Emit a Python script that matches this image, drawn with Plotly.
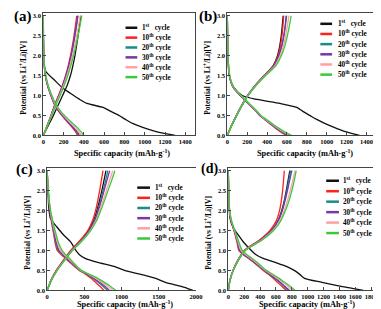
import plotly.graph_objects as go

# ---------------- data ----------------
CYCLES = ["1<sup>st</sup>   cycle", "10<sup>th</sup> cycle", "20<sup>th</sup> cycle",
          "30<sup>th</sup> cycle", "40<sup>th</sup> cycle", "50<sup>th</sup> cycle"]
COLORS = ["#111111", "#ff2020", "#1a8c8c", "#7a35a8", "#ff9fa6", "#3cc83c"]

# voltage levels at which capacities were read
C_V = [0.0, 0.25, 0.5, 0.75, 1.0, 1.25, 1.5, 1.75, 2.0, 2.25, 2.5, 2.75, 3.0]
D_V = [3.0, 2.5, 2.0, 1.8, 1.6, 1.4, 1.2, 1.0, 0.9, 0.8, 0.7, 0.6, 0.5, 0.4, 0.3, 0.2, 0.1, 0.05, 0.0]

# panel (a)
A_D1 = [0, 2, 5, 8, 25, 105, 185, 300, 360, 430, 590, 665, 745, 810, 880, 980, 1105, 1190, 1300]
A_D10 = [0, 1, 4, 8, 15, 28, 48, 75, 90, 105, 125, 152, 182, 215, 250, 285, 315, 328, 335]
A_D20 = [0, 1, 4, 8, 16, 30, 50, 78, 93, 109, 130, 157, 188, 222, 258, 295, 325, 338, 345]
A_D30 = [0, 1, 4, 8, 15, 28, 48, 76, 91, 107, 128, 155, 186, 220, 255, 292, 330, 345, 355]
A_D40 = [0, 1, 5, 9, 17, 32, 53, 82, 97, 114, 137, 166, 198, 234, 273, 313, 348, 362, 372]
A_D50 = [0, 1, 5, 10, 18, 34, 55, 85, 101, 119, 143, 173, 208, 248, 290, 333, 368, 384, 395]
A_C1 = [0, 50, 100, 145, 190, 235, 268, 292, 312, 328, 343, 357, 370]
A_C10 = [0, 38, 75, 110, 150, 188, 220, 246, 268, 287, 303, 317, 330]
A_C20 = [0, 40, 78, 114, 155, 193, 226, 253, 276, 295, 312, 327, 340]
A_C30 = [0, 39, 77, 112, 153, 191, 224, 251, 274, 294, 311, 327, 342]
A_C40 = [0, 41, 80, 118, 160, 199, 234, 263, 288, 310, 330, 348, 365]
A_C50 = [0, 43, 84, 123, 166, 206, 242, 272, 299, 322, 343, 362, 380]

# panel (b)
B_D1 = [0, 2, 5, 8, 14, 30, 65, 150, 300, 530, 700, 760, 830, 900, 980, 1075, 1180, 1250, 1330]
B_D10 = [0, 2, 6, 10, 16, 28, 58, 128, 170, 208, 250, 290, 325, 375, 425, 475, 530, 560, 595]
B_D20 = [0, 2, 6, 10, 17, 30, 60, 132, 174, 212, 254, 294, 330, 380, 432, 484, 540, 572, 605]
B_D30 = [0, 2, 6, 10, 16, 29, 59, 130, 172, 210, 252, 292, 328, 378, 430, 482, 540, 575, 610]
B_D40 = [0, 2, 7, 11, 18, 32, 63, 136, 178, 216, 258, 298, 334, 386, 440, 495, 555, 590, 625]
B_D50 = [0, 2, 7, 11, 18, 33, 65, 140, 182, 220, 262, 302, 338, 392, 448, 505, 568, 605, 645]
B_C1 = [0, 45, 95, 148, 208, 282, 372, 462, 505, 528, 543, 553, 562]
B_C10 = [0, 42, 92, 145, 205, 280, 370, 465, 510, 535, 550, 560, 568]
B_C20 = [0, 42, 92, 145, 205, 282, 375, 472, 520, 550, 570, 585, 597]
B_C30 = [0, 42, 92, 145, 205, 281, 373, 470, 518, 548, 568, 582, 592]
B_C40 = [0, 43, 94, 148, 208, 286, 380, 480, 532, 565, 588, 605, 620]
B_C50 = [0, 44, 96, 150, 212, 290, 386, 490, 545, 580, 605, 625, 642]

# panel (c)
C_D1 = [0, 8, 25, 45, 125, 215, 320, 385, 430, 510, 680, 900, 1040, 1260, 1460, 1590, 1800, 1880, 1960]
C_D10 = [0, 12, 35, 50, 68, 88, 105, 135, 185, 245, 305, 365, 430, 520, 590, 650, 710, 735, 760]
C_D20 = [0, 13, 38, 55, 74, 95, 115, 150, 200, 260, 318, 377, 440, 535, 615, 685, 750, 780, 810]
C_D30 = [0, 13, 40, 58, 78, 100, 122, 160, 210, 268, 325, 383, 445, 545, 630, 705, 775, 805, 835]
C_D40 = [0, 14, 42, 62, 85, 110, 138, 180, 228, 285, 338, 393, 452, 558, 655, 740, 815, 850, 880]
C_D50 = [0, 15, 45, 68, 92, 120, 150, 200, 245, 300, 350, 400, 460, 570, 680, 770, 850, 885, 920]
C_C1 = [0, 55, 130, 225, 325, 450, 555, 625, 668, 703, 735, 763, 790]
C_C10 = [0, 50, 120, 215, 315, 440, 545, 610, 650, 680, 705, 728, 750]
C_C20 = [0, 52, 128, 225, 330, 460, 565, 635, 680, 718, 752, 785, 815]
C_C30 = [0, 52, 128, 225, 330, 462, 568, 640, 688, 728, 765, 802, 840]
C_C40 = [0, 54, 132, 230, 336, 470, 578, 655, 706, 752, 795, 838, 880]
C_C50 = [0, 55, 135, 235, 340, 475, 585, 665, 720, 770, 818, 865, 910]

# panel (d)
D_D1 = [0, 4, 12, 22, 55, 120, 195, 290, 345, 440, 590, 730, 830, 900, 960, 1180, 1420, 1560, 1700]
D_D10 = [0, 4, 14, 28, 55, 85, 110, 132, 185, 255, 320, 380, 440, 505, 565, 620, 675, 700, 730]
D_D20 = [0, 4, 15, 30, 58, 90, 116, 142, 195, 265, 330, 390, 450, 520, 585, 645, 700, 725, 755]
D_D30 = [0, 4, 15, 30, 58, 90, 117, 145, 198, 268, 333, 393, 453, 525, 592, 655, 712, 740, 770]
D_D40 = [0, 5, 16, 32, 62, 95, 125, 160, 215, 285, 350, 408, 468, 545, 620, 688, 750, 780, 810]
D_D50 = [0, 5, 18, 35, 65, 100, 135, 175, 230, 300, 365, 420, 480, 560, 640, 710, 780, 810, 840]
D_C1 = [0, 22, 62, 125, 210, 395, 540, 625, 672, 705, 730, 752, 775]
D_C10 = [0, 18, 58, 118, 200, 385, 525, 605, 645, 668, 684, 695, 705]
D_C20 = [0, 20, 60, 120, 205, 400, 545, 630, 678, 710, 737, 760, 785]
D_C30 = [0, 20, 60, 120, 205, 398, 543, 630, 680, 715, 745, 772, 800]
D_C40 = [0, 21, 62, 123, 210, 410, 560, 650, 705, 745, 780, 812, 840]
D_C50 = [0, 22, 64, 126, 214, 418, 570, 662, 720, 765, 800, 830, 855]

X_TICKS_A = [0, 200, 400, 600, 800, 1000, 1200, 1400]
X_TICKS_B = [0, 200, 400, 600, 800, 1000, 1200, 1400]
X_TICKS_C = [0, 500, 1000, 1500, 2000]
X_TICKS_D = [0, 200, 400, 600, 800, 1000, 1200, 1400, 1600, 1800]
Y_TICKS = [0.0, 0.5, 1.0, 1.5, 2.0, 2.5, 3.0]

PANELS = [
    ("(a)", [A_D1, A_D10, A_D20, A_D30, A_D40, A_D50], [A_C1, A_C10, A_C20, A_C30, A_C40, A_C50], X_TICKS_A, 1496),
    ("(b)", [B_D1, B_D10, B_D20, B_D30, B_D40, B_D50], [B_C1, B_C10, B_C20, B_C30, B_C40, B_C50], X_TICKS_B, 1508),
    ("(c)", [C_D1, C_D10, C_D20, C_D30, C_D40, C_D50], [C_C1, C_C10, C_C20, C_C30, C_C40, C_C50], X_TICKS_C, 2001),
    ("(d)", [D_D1, D_D10, D_D20, D_D30, D_D40, D_D50], [D_C1, D_C10, D_C20, D_C30, D_C40, D_C50], X_TICKS_D, 1911),
]

# ---------------- layout geometry (pixels) ----------------
W, H = 381, 309
def px(x): return x / W
def py(y): return 1 - y / H

# plot frames: left, right, top, bottom in px
FRAMES = [(34, 189, 4, 128), (222, 375, 4, 128), (38, 190, 161, 285), (223, 378, 161, 285)]
XTITLE_Y = [146, 146, 299, 299]
LEG = [  # line x0, x1, text x, first row y, row step
    (118, 130, 133, 19, 10.0),
    (317, 329, 333, 15, 10.3),
    (130, 143, 146, 181, 10.3),
    (323, 336, 338, 174, 10.6),
]
LABELS = [(2, 8), (191, 8), (4, 163), (193, 162)]
LABEL_SIZE = [15, 15, 15, 14]
FONT = "Liberation Serif"

fig = go.Figure()
shapes = []
annotations = []
for i, (lab, dis, chg, xt, xmax) in enumerate(PANELS):
    n = i + 1
    xa = "x" if n == 1 else f"x{n}"
    ya = "y" if n == 1 else f"y{n}"
    for k in range(6):
        fig.add_trace(go.Scatter(x=dis[k], y=D_V, mode="lines", xaxis=xa, yaxis=ya,
                                 line=dict(color=COLORS[k], width=1.3, shape="spline", smoothing=0.7),
                                 showlegend=False, hoverinfo="skip"))
        fig.add_trace(go.Scatter(x=chg[k], y=C_V, mode="lines", xaxis=xa, yaxis=ya,
                                 line=dict(color=COLORS[k], width=1.3, shape="spline", smoothing=0.7),
                                 showlegend=False, hoverinfo="skip"))
    l, r, t, b = FRAMES[i]
    axis_common = dict(showline=True, linecolor="#444", linewidth=1, ticks="inside", ticklen=3,
                       tickwidth=1, tickcolor="#444", showgrid=False, zeroline=False,
                       tickfont=dict(family=FONT, size=6.5, color="black", weight="bold"))
    fig.layout[f"xaxis{'' if n == 1 else n}"] = dict(
        domain=[px(l), px(r)], range=[0, xmax], tickvals=xt, anchor=ya,
        mirror=True, **axis_common)
    fig.layout[f"yaxis{'' if n == 1 else n}"] = dict(
        domain=[py(b), py(t)], range=[0, 3.07], tickvals=Y_TICKS, tickformat=".1f", anchor=xa,
        mirror=(n != 3), **axis_common)
    # axis titles
    annotations.append(dict(text="Specific capacity (mAh·g<sup>-1</sup>)", x=px((l + r) / 2 + 3),
                            y=py(XTITLE_Y[i]), xref="paper", yref="paper", showarrow=False,
                            font=dict(family=FONT, size=8.3, color="black", weight="bold"),
                            xanchor="center", yanchor="middle"))
    annotations.append(dict(text="Potential (vs Li<sup>+</sup>/Li)[V]", x=px(l - 21),
                            y=py((t + b) / 2 + 4), xref="paper", yref="paper", showarrow=False,
                            textangle=-90,
                            font=dict(family=FONT, size=7.5, color="black", weight="bold"),
                            xanchor="center", yanchor="middle"))
    # panel label
    lx, ly = LABELS[i]
    annotations.append(dict(text=lab, x=px(lx), y=py(ly), xref="paper", yref="paper",
                            showarrow=False, xanchor="left", yanchor="middle",
                            font=dict(family=FONT, size=LABEL_SIZE[i], color="black", weight="bold")))
    # legend
    x0, x1, tx, y0, dy = LEG[i]
    for k in range(6):
        yy = y0 + k * dy
        shapes.append(dict(type="line", xref="paper", yref="paper", x0=px(x0), x1=px(x1),
                           y0=py(yy), y1=py(yy), line=dict(color=COLORS[k], width=2.5)))
        annotations.append(dict(text=CYCLES[k], x=px(tx), y=py(yy), xref="paper", yref="paper",
                                showarrow=False, xanchor="left", yanchor="middle",
                                font=dict(family=FONT, size=7.2, color="black", weight="bold")))

fig.update_layout(width=W, height=H, margin=dict(l=0, r=0, t=0, b=0),
                  paper_bgcolor="white", plot_bgcolor="white",
                  shapes=shapes, annotations=annotations, showlegend=False)
fig.write_html("out.html")
